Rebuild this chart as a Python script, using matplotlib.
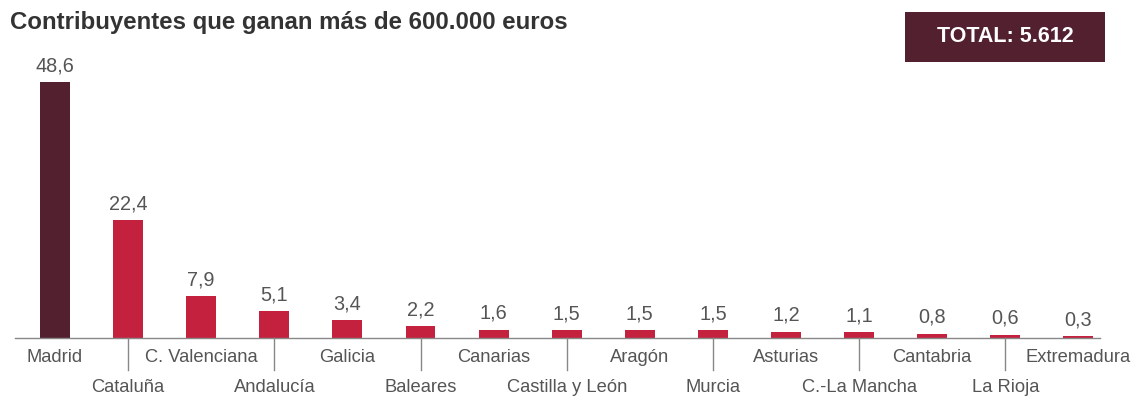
import matplotlib
matplotlib.use('Agg')
import matplotlib.pyplot as plt
from matplotlib.patches import Rectangle

plt.rcParams['font.family'] = ['Liberation Sans', 'DejaVu Sans']

regions = ['Madrid', 'Cataluña', 'C. Valenciana', 'Andalucía', 'Galicia', 'Baleares',
           'Canarias', 'Castilla y León', 'Aragón', 'Murcia', 'Asturias',
           'C.-La Mancha', 'Cantabria', 'La Rioja', 'Extremadura']
values = [48.6, 22.4, 7.9, 5.1, 3.4, 2.2, 1.6, 1.5, 1.5, 1.5, 1.2, 1.1, 0.8, 0.6, 0.3]
total_label = 'TOTAL: 5.612'
title = 'Contribuyentes que ganan más de 600.000 euros'

MAROON = '#52202f'
RED = '#c4213f'
GREY = '#555555'

W, H = 1141, 403
fig = plt.figure(figsize=(W / 100, H / 100), dpi=100)
fig.patch.set_facecolor('white')

# axes placed in pixel terms: baseline at y=338, 48.6 at y=82
left, right, bottom, top = 15, 1100, H - 338, H - 82
ax = fig.add_axes([left / W, bottom / H, (right - left) / W, (top - bottom) / H])

x = list(range(len(values)))
colors = [MAROON] + [RED] * (len(values) - 1)
ax.bar(x, values, width=0.41, color=colors, zorder=2)
ax.set_xlim((15 - 55) / 73.1, (1100 - 55) / 73.1)
ax.set_ylim(0, 48.6)

for s in ['top', 'right', 'left']:
    ax.spines[s].set_visible(False)
ax.spines['bottom'].set_color('#888888')
ax.spines['bottom'].set_linewidth(1.0)
ax.set_xticks([])
ax.set_yticks([])

for xi, v in zip(x, values):
    ax.annotate(f'{v:.1f}'.replace('.', ','), (xi, v), xytext=(0, 5),
                textcoords='offset points', ha='center', va='bottom',
                fontsize=14.3, color=GREY)

for i, name in enumerate(regions):
    if i % 2 == 0:
        ax.annotate(name, (i, 0), xycoords=('data', 'axes fraction'),
                    xytext=(0, -14), textcoords='offset points',
                    ha='center', va='center', fontsize=13.2, color=GREY)
    else:
        ax.annotate(name, (i, 0), xycoords=('data', 'axes fraction'),
                    xytext=(0, -36), textcoords='offset points',
                    ha='center', va='center', fontsize=13.2, color=GREY)
        ax.plot([i, i], [0, -32 / 256], transform=ax.get_xaxis_transform(),
                color='#888888', lw=1.0, clip_on=False)

fig.text(10 / W, 1 - 22 / H, title, ha='left', va='center',
         fontsize=17.3, fontweight='bold', color='#333333')

fig.patches.append(Rectangle((905 / W, 1 - 62 / H), 200 / W, 50 / H,
                             transform=fig.transFigure, facecolor=MAROON,
                             edgecolor='none'))
fig.text(1005 / W, 1 - 37 / H, total_label, ha='center', va='center',
         fontsize=15.5, fontweight='bold', color='white')

plt.savefig('out.png', dpi=100, facecolor='white')
